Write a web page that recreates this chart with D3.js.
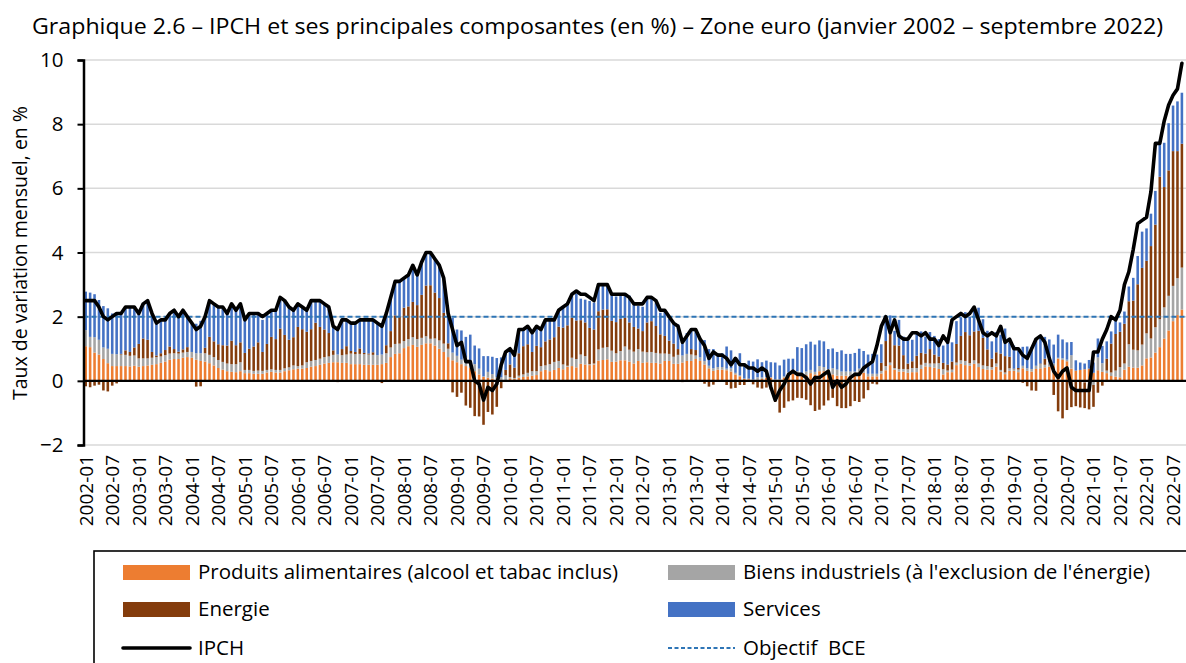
<!DOCTYPE html>
<html><head><meta charset="utf-8">
<script src="https://cdn.jsdelivr.net/npm/d3@7"></script>
<style>
body{margin:0;background:#fff}
svg{display:block}
text{font-family:"Open Sans","Noto Sans",sans-serif;fill:#000}
</style>
</head><body>
<svg id="chart" width="1186" height="663"></svg>
<script>
// ---------- DATA ----------
const years = d3.range(2002, 2023);
const months = [];
years.forEach(yr => { for (let m = 1; m <= 12; m++) { if (yr === 2022 && m > 9) break; months.push(yr + "-" + String(m).padStart(2, "0")); } });

const titleText = "Graphique 2.6 \u2013 IPCH et ses principales composantes (en %) \u2013 Zone euro (janvier 2002 \u2013 septembre 2022)";
const yTitle = "Taux de variation mensuel, en %";
const yTicks = [-2, 0, 2, 4, 6, 8, 10];
const xTickMonths = months.filter(m => m.endsWith("-01") || m.endsWith("-07"));
const ecbTarget = 2;

const seriesNames = ["Produits alimentaires (alcool et tabac inclus)", "Biens industriels (\u00e0 l'exclusion de l'\u00e9nergie)", "Energie", "Services"];
const seriesColors = ["#ED7D31", "#A5A5A5", "#843C0C", "#4472C4"];

const hicp = [
 2.5,2.5,2.5,2.3,2.0,1.9,2.0,2.1,2.1,2.3,2.3,2.3,
 2.1,2.4,2.5,2.1,1.8,1.9,1.9,2.1,2.2,2.0,2.2,2.0,
 1.8,1.6,1.7,2.0,2.5,2.4,2.3,2.3,2.1,2.4,2.2,2.4,
 1.9,2.1,2.1,2.1,2.0,2.1,2.2,2.2,2.6,2.5,2.3,2.2,
 2.4,2.3,2.2,2.5,2.5,2.5,2.4,2.3,1.7,1.6,1.9,1.9,
 1.8,1.8,1.9,1.9,1.9,1.9,1.8,1.7,2.1,2.6,3.1,3.1,
 3.2,3.3,3.6,3.3,3.7,4.0,4.0,3.8,3.6,3.2,2.1,1.6,
 1.1,1.2,0.6,0.6,0.0,-0.1,-0.6,-0.2,-0.3,-0.1,0.5,0.9,
 1.0,0.8,1.6,1.6,1.7,1.5,1.7,1.6,1.9,1.9,1.9,2.2,
 2.3,2.4,2.7,2.8,2.7,2.7,2.6,2.5,3.0,3.0,3.0,2.7,
 2.7,2.7,2.7,2.6,2.4,2.4,2.4,2.6,2.6,2.5,2.2,2.2,
 2.0,1.8,1.7,1.2,1.4,1.6,1.6,1.3,1.1,0.7,0.9,0.8,
 0.8,0.7,0.5,0.7,0.5,0.5,0.4,0.4,0.3,0.4,0.3,-0.2,
 -0.6,-0.3,-0.1,0.2,0.3,0.2,0.2,0.1,-0.1,0.1,0.1,0.2,
 0.3,-0.2,0.0,-0.2,-0.1,0.1,0.2,0.2,0.4,0.5,0.6,1.1,
 1.7,2.0,1.5,1.9,1.4,1.3,1.3,1.5,1.5,1.4,1.5,1.3,
 1.3,1.1,1.4,1.2,1.9,2.0,2.1,2.0,2.1,2.3,1.9,1.5,
 1.4,1.5,1.4,1.7,1.2,1.3,1.0,1.0,0.8,0.7,1.0,1.3,
 1.4,1.2,0.7,0.3,0.1,0.3,0.4,-0.2,-0.3,-0.3,-0.3,-0.3,
 0.9,0.9,1.3,1.6,2.0,1.9,2.2,3.0,3.4,4.1,4.9,5.0,
 5.1,5.9,7.4,7.4,8.1,8.6,8.9,9.1,9.9
];

const food = [
 1.08,1.05,0.88,0.82,0.68,0.55,0.46,0.46,0.46,0.46,0.45,0.47,
 0.44,0.46,0.48,0.50,0.52,0.56,0.60,0.66,0.68,0.68,0.72,0.74,
 0.72,0.66,0.62,0.60,0.55,0.48,0.40,0.35,0.30,0.28,0.27,0.30,
 0.24,0.24,0.22,0.22,0.22,0.26,0.28,0.26,0.26,0.30,0.33,0.36,
 0.38,0.38,0.40,0.44,0.46,0.50,0.54,0.56,0.58,0.58,0.56,0.56,
 0.52,0.52,0.52,0.50,0.50,0.50,0.50,0.52,0.56,0.74,0.84,0.86,
 1.02,1.08,1.12,1.06,1.12,1.17,1.17,1.10,1.00,0.90,0.74,0.64,
 0.58,0.52,0.46,0.40,0.30,0.20,0.12,0.10,0.07,0.04,0.03,0.02,
 0.08,0.06,0.10,0.12,0.14,0.16,0.18,0.30,0.34,0.30,0.34,0.40,
 0.36,0.44,0.46,0.42,0.53,0.51,0.49,0.51,0.63,0.65,0.67,0.59,
 0.60,0.64,0.64,0.60,0.54,0.62,0.56,0.58,0.56,0.56,0.54,0.62,
 0.62,0.53,0.53,0.57,0.62,0.62,0.68,0.62,0.51,0.39,0.31,0.35,
 0.35,0.33,0.29,0.20,0.14,0.06,0.05,0.03,0.03,0.06,0.10,0.10,
 0.02,0.02,0.10,0.20,0.22,0.24,0.18,0.18,0.24,0.20,0.30,0.30,
 0.24,0.20,0.16,0.16,0.16,0.16,0.18,0.27,0.25,0.14,0.14,0.14,
 0.23,0.33,0.49,0.35,0.29,0.29,0.25,0.27,0.27,0.37,0.45,0.43,
 0.41,0.37,0.20,0.27,0.27,0.49,0.53,0.49,0.47,0.53,0.43,0.37,
 0.35,0.35,0.44,0.29,0.21,0.31,0.31,0.27,0.39,0.31,0.29,0.37,
 0.39,0.42,0.44,0.46,0.69,0.65,0.61,0.38,0.32,0.34,0.36,0.38,
 0.25,0.33,0.28,0.24,0.15,0.13,0.11,0.35,0.44,0.41,0.41,0.48,
 0.70,0.73,0.88,1.05,1.32,1.57,1.86,2.05,2.22
];

const industrialGoods = [
 0.50,0.32,0.48,0.46,0.36,0.45,0.38,0.37,0.36,0.35,0.33,0.32,
 0.26,0.24,0.22,0.22,0.22,0.20,0.20,0.19,0.18,0.17,0.16,0.16,
 0.18,0.20,0.24,0.26,0.26,0.26,0.25,0.24,0.24,0.24,0.25,0.28,
 0.10,0.10,0.09,0.10,0.09,0.08,0.08,0.08,0.08,0.09,0.09,0.12,
 0.08,0.10,0.18,0.18,0.19,0.19,0.20,0.20,0.23,0.24,0.24,0.26,
 0.33,0.31,0.32,0.33,0.32,0.31,0.30,0.30,0.30,0.30,0.31,0.30,
 0.22,0.22,0.24,0.24,0.22,0.22,0.14,0.22,0.26,0.26,0.26,0.24,
 0.20,0.14,0.26,0.24,0.22,0.18,0.02,0.18,0.14,0.08,0.08,0.15,
 0.04,0.03,0.06,0.08,0.11,0.14,0.12,0.16,0.14,0.22,0.25,0.22,
 0.15,0.03,0.26,0.26,0.29,0.26,0.03,0.03,0.35,0.38,0.38,0.35,
 0.26,0.29,0.43,0.37,0.37,0.37,0.35,0.31,0.34,0.31,0.31,0.23,
 0.22,0.22,0.28,0.22,0.22,0.20,0.11,0.11,0.11,0.08,0.08,0.08,
 0.08,0.05,0.10,0.05,0.03,0.01,0.01,0.01,0.08,0.05,0.01,0.01,
 0.03,0.03,0.04,0.06,0.06,0.06,0.06,0.11,0.10,0.08,0.16,0.13,
 0.13,0.19,0.19,0.13,0.13,0.13,0.11,0.11,0.08,0.08,0.08,0.08,
 0.08,0.13,0.08,0.05,0.08,0.08,0.11,0.13,0.13,0.13,0.11,0.11,
 0.13,0.18,0.16,0.05,0.08,0.08,0.11,0.13,0.08,0.11,0.11,0.11,
 0.11,0.08,0.10,0.05,0.05,0.08,0.05,0.08,0.08,0.08,0.08,0.10,
 0.13,0.08,0.13,0.08,0.03,0.05,0.05,0.42,-0.03,-0.03,-0.05,-0.08,
 -0.13,0.40,0.27,0.08,0.11,0.19,0.32,0.19,0.70,0.56,0.54,0.65,
 0.78,0.59,0.79,0.87,0.97,1.08,1.10,1.15,1.31
];

const energy = [
 -0.17,-0.20,-0.15,-0.12,-0.30,-0.33,-0.15,-0.08,0.02,0.14,0.12,0.25,
 0.45,0.62,0.58,0.18,0.05,0.10,0.16,0.22,0.13,0.06,0.10,0.15,
 -0.03,-0.18,-0.17,0.17,0.56,0.49,0.49,0.52,0.56,0.73,0.59,0.62,
 0.53,0.66,0.76,0.88,0.59,0.81,1.01,0.96,1.29,1.04,0.86,0.88,
 1.22,1.13,0.95,0.99,1.16,0.99,0.86,0.73,0.14,-0.04,0.19,0.26,
 0.08,0.07,0.17,0.04,0.03,0.08,0.00,-0.07,0.25,0.51,0.89,0.85,
 1.04,1.02,1.10,1.06,1.34,1.58,1.67,1.43,1.32,0.96,0.17,-0.36,
 -0.50,-0.37,-0.77,-0.84,-1.10,-1.11,-1.37,-0.97,-1.05,-0.81,-0.23,0.17,
 0.39,0.32,0.70,0.88,0.89,0.60,0.79,0.59,0.75,0.77,0.77,1.07,
 1.15,1.26,1.25,1.20,1.07,1.05,1.13,1.06,1.19,1.19,1.18,0.93,
 0.97,1.00,0.89,0.85,0.77,0.64,0.64,0.93,0.96,0.84,0.60,0.55,
 0.41,0.41,0.18,-0.04,-0.02,0.17,0.17,-0.03,-0.09,-0.18,-0.12,0.00,
 0.00,-0.13,-0.24,-0.22,-0.13,-0.13,0.01,-0.11,-0.21,-0.24,-0.21,-0.27,
 -0.66,-0.99,-0.84,-0.64,-0.61,-0.53,-0.54,-0.59,-0.76,-0.94,-0.90,-0.77,
 -0.61,-0.53,-0.79,-0.85,-0.85,-0.79,-0.63,-0.66,-0.55,-0.29,-0.09,-0.11,
 0.25,0.78,0.89,0.71,0.73,0.43,0.18,0.21,0.38,0.37,0.29,0.45,
 0.28,0.21,0.20,0.19,0.25,0.58,0.76,0.90,0.87,0.90,1.02,0.86,
 0.52,0.26,0.35,0.51,0.51,0.36,0.02,0.05,-0.06,-0.17,-0.30,-0.31,
 0.02,0.19,-0.03,-0.44,-0.95,-1.17,-0.91,-0.82,-0.76,-0.80,-0.80,-0.81,
 -0.68,-0.37,-0.15,0.37,0.90,1.14,1.10,1.24,1.34,1.53,2.06,2.39,
 2.26,2.88,3.20,4.44,3.75,3.91,4.20,3.96,3.86
];

const services = [
 1.20,1.38,1.34,1.24,1.29,1.26,1.26,1.27,1.26,1.35,1.40,1.26,
 0.95,1.08,1.22,1.20,1.01,1.04,0.94,1.03,1.21,1.09,1.22,0.95,
 0.93,0.92,1.01,0.97,1.13,1.17,1.16,1.19,1.00,1.15,1.09,1.15,
 1.03,1.10,1.03,0.90,1.00,0.95,0.83,0.90,0.97,1.07,1.02,0.84,
 0.72,0.69,0.67,0.89,0.69,0.82,0.80,0.81,0.75,0.82,0.91,0.82,
 0.87,0.90,0.89,1.03,1.05,1.01,1.00,0.95,0.99,1.05,1.06,1.09,
 0.92,0.98,1.14,0.94,1.02,1.03,1.02,1.05,1.02,1.08,0.93,1.08,
 0.82,0.91,0.65,0.80,0.58,0.63,0.63,0.49,0.54,0.59,0.62,0.56,
 0.49,0.39,0.74,0.52,0.56,0.60,0.61,0.55,0.67,0.61,0.54,0.51,
 0.63,0.71,0.67,0.84,0.67,0.71,0.84,0.84,0.80,0.76,0.80,0.80,
 0.80,0.76,0.71,0.84,0.76,0.71,0.76,0.76,0.71,0.71,0.67,0.76,
 0.69,0.65,0.77,0.47,0.65,0.60,0.60,0.60,0.65,0.52,0.60,0.43,
 0.43,0.69,0.56,0.47,0.69,0.47,0.56,0.56,0.56,0.47,0.52,0.47,
 0.52,0.43,0.52,0.43,0.41,0.75,0.78,0.85,0.88,0.85,0.80,0.80,
 0.62,0.62,0.55,0.66,0.55,0.55,0.58,0.62,0.60,0.60,0.62,0.60,
 0.58,0.71,0.58,0.45,0.80,0.58,0.71,0.67,0.71,0.67,0.53,0.53,
 0.58,0.54,0.54,0.85,0.60,0.71,0.58,0.62,0.58,0.67,0.72,0.58,
 0.58,0.54,0.63,0.59,0.86,0.45,0.72,0.54,0.59,0.68,0.68,0.86,
 0.82,0.68,0.72,0.59,0.72,0.59,0.54,0.41,0.32,0.23,0.18,0.27,
 0.32,0.59,0.54,0.54,0.38,0.46,0.29,0.38,0.46,0.71,0.88,1.13,
 1.01,1.01,1.05,1.13,1.38,1.47,1.42,1.55,1.59
];

// ---------- CHART ----------
const svg = d3.select("#chart");
const W = 1186, H = 663;
svg.append("rect").attr("width", W).attr("height", H).attr("fill", "#fff");

const plotLeft = 83.5, plotRight = 1184.1, plotTop = 60, plotBottom = 445;
const x = d3.scaleBand().domain(months).range([plotLeft, plotRight]).paddingInner(0.42).paddingOuter(0.21);
const y = d3.scaleLinear().domain([-2, 10]).range([plotBottom, plotTop]);
const cx = m => x(m) + x.bandwidth() / 2;

// title
svg.append("text").attr("x", 597.5).attr("y", 34).attr("text-anchor", "middle")
  .attr("textLength", 1131).attr("lengthAdjust", "spacingAndGlyphs")
  .style("font-size", "22.5px").text(titleText);

// gridlines
svg.append("g").selectAll("line").data(yTicks).join("line")
  .attr("x1", plotLeft).attr("x2", W).attr("y1", d => y(d)).attr("y2", d => y(d))
  .attr("stroke", "#d9d9d9").attr("stroke-width", 1.5);

// stacked bars
const keys = ["food", "neig", "energy", "services"];
const rows = months.map((m, i) => ({ m, food: food[i], neig: industrialGoods[i], energy: energy[i], services: services[i] }));
const stacked = d3.stack().keys(keys).offset(d3.stackOffsetDiverging)(rows);
const gBars = svg.append("g");
stacked.forEach((layer, k) => {
  gBars.append("g").attr("fill", seriesColors[k]).selectAll("rect").data(layer).join("rect")
    .attr("x", d => x(d.data.m)).attr("width", x.bandwidth())
    .attr("y", d => y(Math.max(d[0], d[1])))
    .attr("height", d => Math.abs(y(d[0]) - y(d[1])));
});

// ECB target
svg.append("line").attr("x1", plotLeft).attr("x2", W).attr("y1", y(ecbTarget)).attr("y2", y(ecbTarget))
  .attr("stroke", "#2e75b6").attr("stroke-width", 2).attr("stroke-dasharray", "5,3");

// zero line
svg.append("line").attr("x1", plotLeft).attr("x2", W).attr("y1", y(0)).attr("y2", y(0))
  .attr("stroke", "#000").attr("stroke-width", 2.2);

// HICP line
const line = d3.line().x((d, i) => cx(months[i])).y(d => y(d));
svg.append("path").datum(hicp).attr("d", line).attr("fill", "none")
  .attr("stroke", "#000").attr("stroke-width", 3.6).attr("stroke-linejoin", "round").attr("stroke-linecap", "round");

// y axis
const yAxis = svg.append("g").attr("transform", `translate(${plotLeft},0)`)
  .call(d3.axisLeft(y).tickValues(yTicks).tickSize(6).tickPadding(8).tickFormat(d3.format("d")));
yAxis.select(".domain").attr("stroke", "#000").attr("stroke-width", 2.5);
yAxis.selectAll(".tick line").attr("stroke", "#000").attr("stroke-width", 2);
yAxis.selectAll(".tick text").style("font-size", "20.5px").attr("font-family", null).attr("fill", "#000").attr("dx", "-6");

// y title
svg.append("text").attr("transform", "translate(27,253) rotate(-90)").attr("text-anchor", "middle")
  .style("font-size", "19.5px").text(yTitle);

// x axis labels
const xAxis = svg.append("g").attr("transform", `translate(0,${plotBottom})`)
  .call(d3.axisBottom(x).tickValues(xTickMonths).tickSize(0));
xAxis.select(".domain").remove();
xAxis.selectAll(".tick text").attr("font-family", null).style("font-size", "19px").attr("fill", "#000")
  .attr("y", 0).attr("x", -10).attr("dy", "0.36em").attr("transform", "rotate(-90)").style("text-anchor", "end");

// legend
const lg = svg.append("g");
lg.append("rect").attr("x", 94).attr("y", 551).attr("width", 1110).attr("height", 130)
  .attr("fill", "none").attr("stroke", "#000").attr("stroke-width", 1.6);
const legendItems = [
  { name: seriesNames[0], type: "rect", color: seriesColors[0], x: 123, y: 572 },
  { name: seriesNames[1], type: "rect", color: seriesColors[1], x: 668, y: 572 },
  { name: seriesNames[2], type: "rect", color: seriesColors[2], x: 123, y: 609 },
  { name: seriesNames[3], type: "rect", color: seriesColors[3], x: 668, y: 609 },
  { name: "IPCH", type: "line", color: "#000", x: 123, y: 648 },
  { name: "Objectif  BCE", type: "dash", color: "#2e75b6", x: 668, y: 648 }
];
legendItems.forEach(it => {
  if (it.type === "rect") {
    lg.append("rect").attr("x", it.x).attr("y", it.y - 7).attr("width", 67).attr("height", 15).attr("fill", it.color);
  } else if (it.type === "line") {
    lg.append("line").attr("x1", it.x).attr("x2", it.x + 67).attr("y1", it.y).attr("y2", it.y)
      .attr("stroke", it.color).attr("stroke-width", 3.6).attr("stroke-linecap", "round");
  } else {
    lg.append("line").attr("x1", it.x).attr("x2", it.x + 67).attr("y1", it.y).attr("y2", it.y)
      .attr("stroke", it.color).attr("stroke-width", 2).attr("stroke-dasharray", "4,2.5");
  }
  lg.append("text").attr("x", it.x + 75).attr("y", it.y).attr("dy", "0.35em")
    .style("font-size", "20.5px").style("white-space", "pre").attr("xml:space", "preserve").text(it.name);
});
</script>
</body></html>
